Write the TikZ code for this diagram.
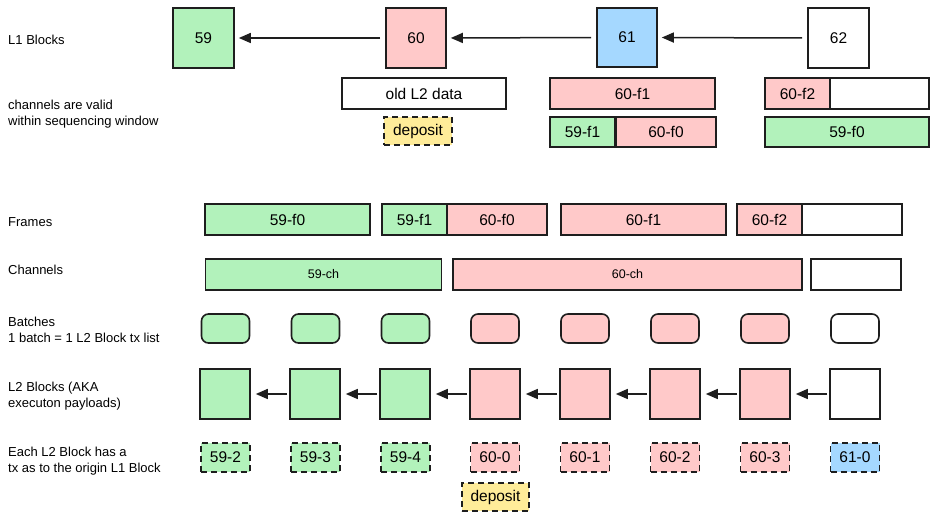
\documentclass[tikz,border=0pt]{standalone}
\usepackage{fontspec}
\setmainfont{Liberation Sans}
\usetikzlibrary{arrows.meta}
\definecolor{cgreen}{HTML}{B2F2BB}
\definecolor{cpink}{HTML}{FFC9C9}
\definecolor{cblue}{HTML}{A5D8FF}
\definecolor{cyellow}{HTML}{FFEC99}
\definecolor{cstroke}{HTML}{1E1E1E}
\tikzset{
  bx/.style={draw=cstroke, line width=1.6pt, inner sep=0pt, font=\fontsize{15.5}{17}\selectfont},
  chbx/.style={bx, font=\fontsize{12.5}{14}\selectfont},
  batch/.style={bx, rounded corners=7pt, minimum width=48pt, minimum height=29pt},
  blk/.style={bx, minimum width=50pt, minimum height=50pt},
  txbx/.style={bx, dashed, dash pattern=on 6pt off 4pt, minimum width=49pt, minimum height=29pt},
  lbl/.style={anchor=west, align=left, inner sep=0pt, font=\fontsize{13}{16}\selectfont},
  arr/.style={draw=cstroke, line width=1.5pt, -{Triangle[length=12pt,width=10pt]}},
}
\begin{document}
\begin{tikzpicture}[x=1pt,y=-1pt]
\useasboundingbox (0,0) rectangle (937,518);
% left labels
\node[lbl] (t1) at (8,40) {L1 Blocks};
\node[lbl] (t2) at (8,114) {channels are valid\\within sequencing window};
\node[lbl] (t3) at (8,222) {Frames};
\node[lbl] (t4) at (8,270) {Channels};
\node[lbl] (t5) at (8,330) {Batches\\1 batch = 1 L2 Block tx list};
\node[lbl] (t6) at (8,396) {L2 Blocks (AKA\\executon payloads)};
\node[lbl] (t7) at (8,461) {Each L2 Block has a\\tx as to the origin L1 Block};
% L1 blocks
\node[bx, fill=cgreen, minimum width=61pt, minimum height=60pt] (l59) at (203.5,38) {59};
\node[bx, fill=cpink, minimum width=60pt, minimum height=60pt] (l60) at (416,38) {60};
\node[bx, fill=cblue, minimum width=60pt, minimum height=59pt] (l61) at (627,37.5) {61};
\node[bx, fill=white, minimum width=61pt, minimum height=60pt] (l62) at (838.5,38) {62};
\draw[arr, shorten <=5pt, shorten >=4pt] (l60.west) -- (l59.east);
\draw[arr, shorten <=5pt, shorten >=4pt] (l61.west) -- (l60.east);
\draw[arr, shorten <=5pt, shorten >=4pt] (l62.west) -- (l61.east);
% sequencing window row
\node[bx, fill=white, minimum width=164pt, minimum height=31pt] (old) at (424,93.5) {old L2 data};
\node[bx, fill=cpink, minimum width=165pt, minimum height=31pt] (a60f1) at (632.5,93.5) {60-f1};
\node[bx, fill=cpink, minimum width=65pt, minimum height=31pt] (a60f2) at (797.5,93.5) {60-f2};
\node[bx, fill=white, minimum width=99pt, minimum height=31pt] (aw) at (879.5,93.5) {};
\node[bx, dashed, dash pattern=on 6pt off 4pt, fill=cyellow, minimum width=68pt, minimum height=28pt] (dep1) at (418,131) {deposit};
\node[bx, fill=cgreen, minimum width=65pt, minimum height=30pt] (a59f1) at (582.5,132) {59-f1};
\node[bx, fill=cpink, minimum width=100pt, minimum height=30pt] (a60f0) at (666,132) {60-f0};
\node[bx, fill=cgreen, minimum width=164pt, minimum height=30pt] (a59f0) at (847,132) {59-f0};
% frames
\node[bx, fill=cgreen, minimum width=165pt, minimum height=31pt] (f59f0) at (287.5,219.5) {59-f0};
\node[bx, fill=cgreen, minimum width=65pt, minimum height=31pt] (f59f1) at (414.5,219.5) {59-f1};
\node[bx, fill=cpink, minimum width=100pt, minimum height=31pt] (f60f0) at (497,219.5) {60-f0};
\node[bx, fill=cpink, minimum width=165pt, minimum height=31pt] (f60f1) at (643.5,219.5) {60-f1};
\node[bx, fill=cpink, minimum width=65pt, minimum height=31pt] (f60f2) at (769.5,219.5) {60-f2};
\node[bx, fill=white, minimum width=100pt, minimum height=31pt] (fw) at (852,219.5) {};
% channels
\node[chbx, fill=cgreen, minimum width=236pt, minimum height=31pt] (c59) at (323.5,274.5) {59-ch};
\node[chbx, fill=cpink, minimum width=349pt, minimum height=31pt] (c60) at (627.5,274.5) {60-ch};
\node[chbx, fill=white, minimum width=90pt, minimum height=31pt] (cw) at (856,274.5) {};
% batches
\node[batch, fill=cgreen] (b1) at (225.5,328.5) {};
\node[batch, fill=cgreen] (b2) at (315.5,328.5) {};
\node[batch, fill=cgreen] (b3) at (405.5,328.5) {};
\node[batch, fill=cpink] (b4) at (495,328.5) {};
\node[batch, fill=cpink] (b5) at (585,328.5) {};
\node[batch, fill=cpink] (b6) at (675,328.5) {};
\node[batch, fill=cpink] (b7) at (765,328.5) {};
\node[batch, fill=white] (b8) at (855,328.5) {};
% L2 blocks
\node[blk, fill=cgreen] (k1) at (225,394) {};
\node[blk, fill=cgreen] (k2) at (315,394) {};
\node[blk, fill=cgreen] (k3) at (405,394) {};
\node[blk, fill=cpink] (k4) at (495,394) {};
\node[blk, fill=cpink] (k5) at (585,394) {};
\node[blk, fill=cpink] (k6) at (675,394) {};
\node[blk, fill=cpink] (k7) at (765,394) {};
\node[blk, fill=white] (k8) at (855,394) {};
\foreach \a/\b in {k2/k1,k3/k2,k4/k3,k5/k4,k6/k5,k7/k6,k8/k7}
  \draw[arr, shorten <=2pt, shorten >=5pt] (\a.west) -- (\b.east);
% tx
\node[txbx, fill=cgreen] (x1) at (225.5,457.5) {59-2};
\node[txbx, fill=cgreen] (x2) at (315.5,457.5) {59-3};
\node[txbx, fill=cgreen] (x3) at (405.5,457.5) {59-4};
\node[txbx, fill=cpink] (x4) at (495,457.5) {60-0};
\node[txbx, fill=cpink] (x5) at (585,457.5) {60-1};
\node[txbx, fill=cpink] (x6) at (675,457.5) {60-2};
\node[txbx, fill=cpink] (x7) at (765,457.5) {60-3};
\node[txbx, fill=cblue] (x8) at (855,457.5) {61-0};
\node[bx, dashed, dash pattern=on 6pt off 4pt, fill=cyellow, minimum width=67pt, minimum height=28pt] (dep2) at (495.5,497) {deposit};
\end{tikzpicture}
\end{document}
